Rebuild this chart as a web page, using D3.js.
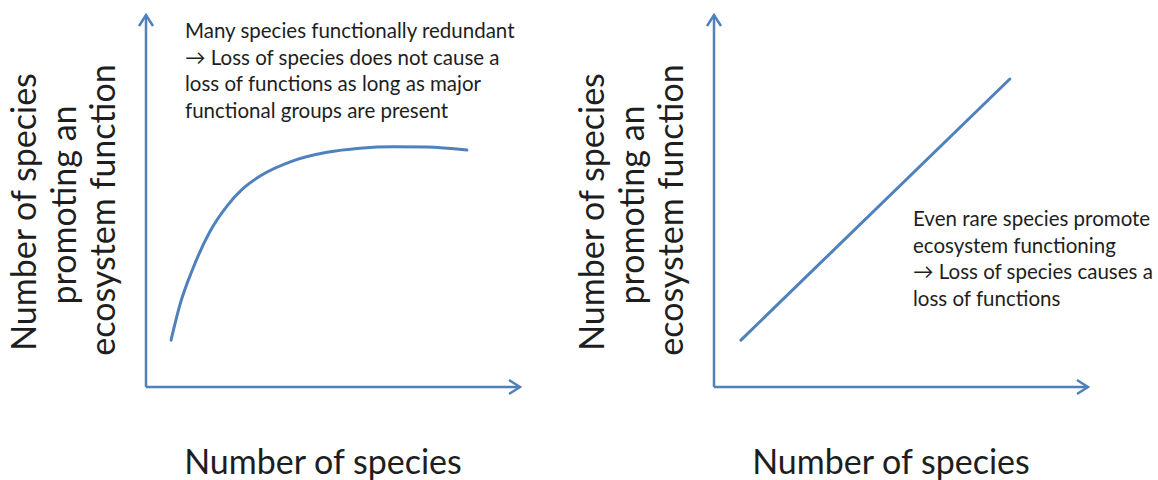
<!DOCTYPE html>
<html>
<head>
<meta charset="utf-8">
<script src="https://cdn.jsdelivr.net/npm/d3@7"></script>
<style>
  html, body { margin: 0; padding: 0; background: #fff; }
  svg { display: block; }
  text { font-family: Lato, "Open Sans", sans-serif; fill: #1e1e1e; }
</style>
</head>
<body>
<svg id="chart" width="1158" height="480"></svg>
<script>
// ---- data ----
const redundancySpecies = [0.67, 0.91, 1.26, 1.71, 2.17, 2.59, 3.05, 3.93, 4.84, 5.72, 6.60, 7.51, 8.58];
const redundancyFunction = [1.26, 2.22, 3.20, 4.18, 4.87, 5.33, 5.67, 6.08, 6.31, 6.42, 6.46, 6.45, 6.37];
const linearSpecies = [0.72, 7.91];
const linearFunction = [1.26, 8.28];
const yLabelLines = ["Number of species", "promoting an", "ecosystem function"];
const xLabel = "Number of species";
const leftNote = ["Many species functionally redundant", "\u2192 Loss of species does not cause a", "loss of functions as long as major", "functional groups are present"];
const rightNote = ["Even rare species promote", "ecosystem functioning", "\u2192 Loss of species causes a", "loss of functions"];

const blue = "#4f81bd";
const svg = d3.select("#chart");

function panel(opts) {
  const x = d3.scaleLinear().domain([0, 10]).range([opts.x0, opts.x0 + 374]);
  const y = d3.scaleLinear().domain([0, 10]).range([387, 15]);
  const g = svg.append("g");

  // axes
  g.append("line").attr("x1", x(0)).attr("y1", y(0)).attr("x2", x(0)).attr("y2", y(10))
    .attr("stroke", blue).attr("stroke-width", 2.5);
  g.append("line").attr("x1", x(0)).attr("y1", y(0)).attr("x2", x(10)).attr("y2", y(0))
    .attr("stroke", blue).attr("stroke-width", 2.5);
  // arrow heads (open chevrons)
  g.append("path").attr("d", `M${x(0) - 7},${y(10) + 11} L${x(0)},${y(10)} L${x(0) + 7},${y(10) + 11}`)
    .attr("fill", "none").attr("stroke", blue).attr("stroke-width", 2.5).attr("stroke-linejoin", "miter");
  g.append("path").attr("d", `M${x(10) - 11},${y(0) - 7} L${x(10)},${y(0)} L${x(10) - 11},${y(0) + 7}`)
    .attr("fill", "none").attr("stroke", blue).attr("stroke-width", 2.5).attr("stroke-linejoin", "miter");

  // data line
  const pts = opts.xs.map((v, i) => [v, opts.ys[i]]);
  const line = d3.line().x(d => x(d[0])).y(d => y(d[1])).curve(d3.curveMonotoneX);
  g.append("path").attr("d", line(pts)).attr("fill", "none")
    .attr("stroke", blue).attr("stroke-width", 3).attr("stroke-linecap", "round");

  // y label (rotated)
  const ybase = [opts.x0 - 110, opts.x0 - 70, opts.x0 - 31];
  const ycent = [212, 205, 210];
  yLabelLines.forEach((t, i) => {
    g.append("text").attr("transform", `translate(${ybase[i]},${ycent[i]}) rotate(-90)`)
      .attr("text-anchor", "middle").attr("font-size", 34).text(t);
  });
  // x label
  g.append("text").attr("x", opts.x0 + 177).attr("y", 474)
    .attr("text-anchor", "middle").attr("font-size", 34).text(xLabel);

  // note
  opts.note.forEach((t, i) => {
    g.append("text").attr("x", opts.noteX).attr("y", opts.noteY + i * 26.7)
      .attr("font-size", 20.5).text(t);
  });
}

panel({ x0: 146, xs: redundancySpecies, ys: redundancyFunction, note: leftNote, noteX: 185, noteY: 38 });
panel({ x0: 714, xs: linearSpecies, ys: linearFunction, note: rightNote, noteX: 913, noteY: 226 });
</script>
</body>
</html>
